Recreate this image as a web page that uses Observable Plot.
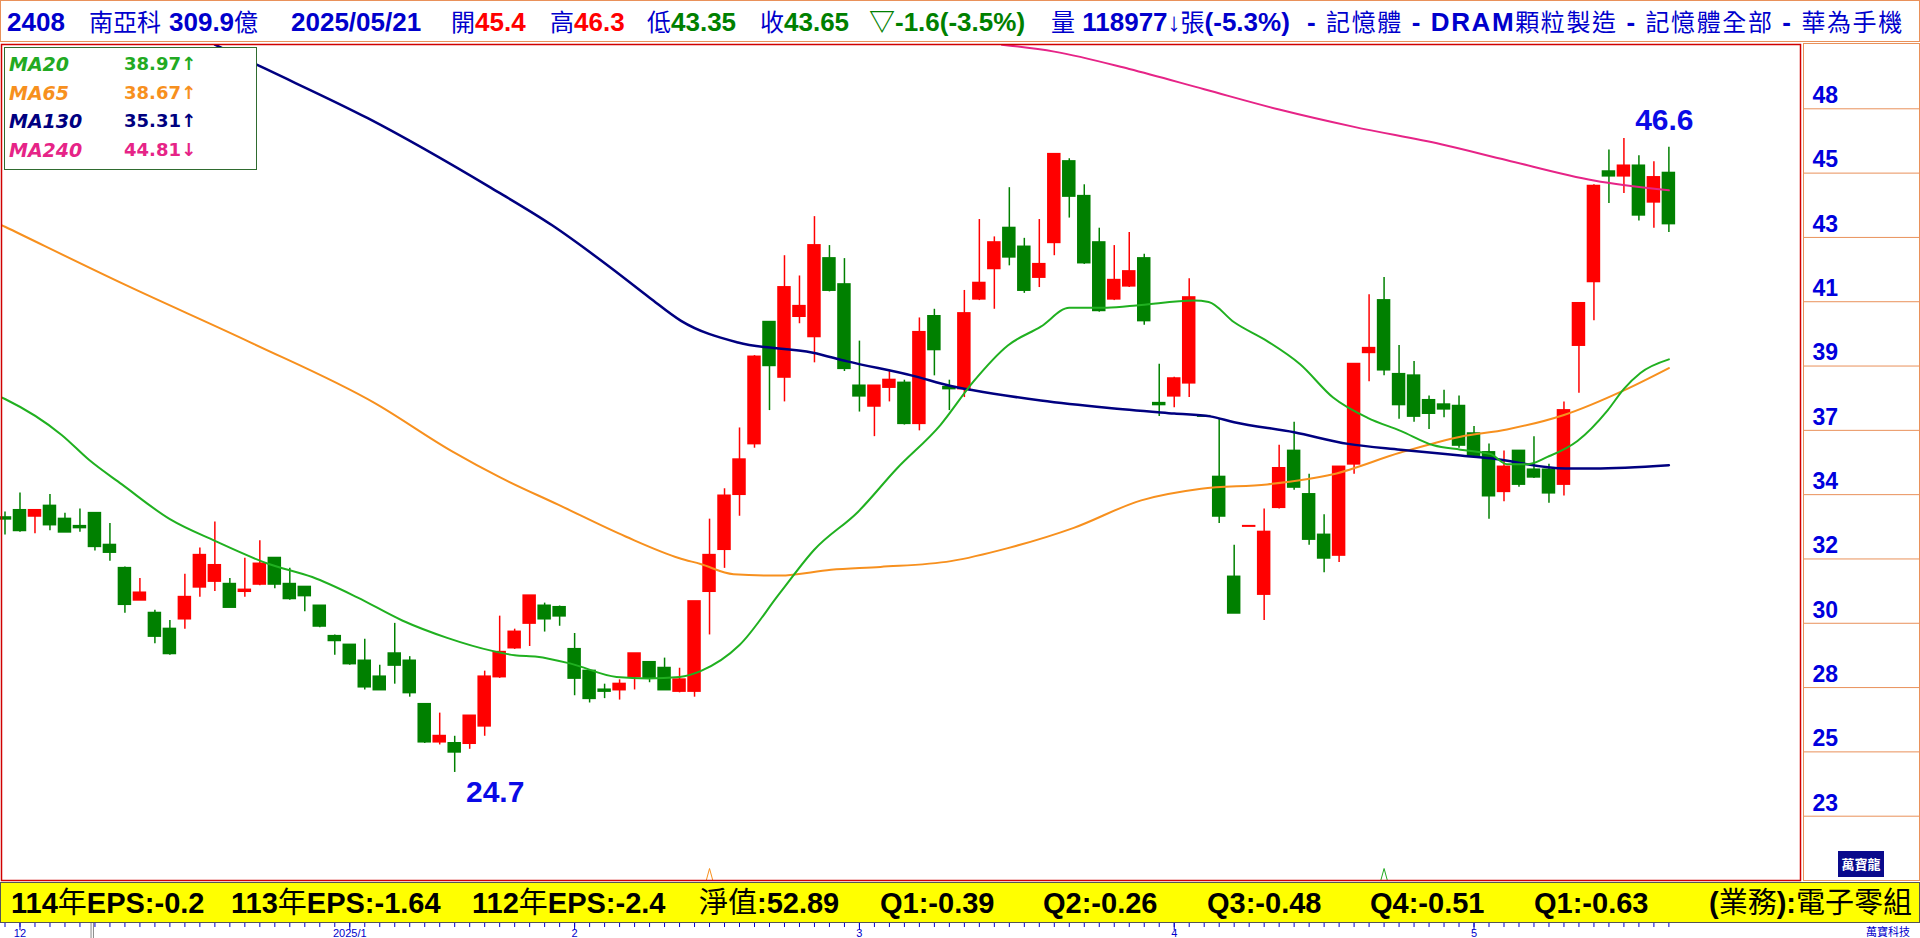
<!DOCTYPE html>
<html>
<head>
<meta charset="utf-8">
<script src="https://cdn.jsdelivr.net/npm/d3@7"></script>
<script src="https://cdn.jsdelivr.net/npm/@observablehq/plot@0.6"></script>
<style>
html,body{margin:0;padding:0;background:#fff;}
#wrap{position:relative;width:1920px;height:938px;overflow:hidden;background:#fff;font-family:"Liberation Sans","Noto Sans CJK TC",sans-serif;}
#chart{position:absolute;left:0;top:0;}
.cj{font-family:"Noto Sans CJK TC",sans-serif;font-weight:normal;line-height:1;}
.ht .cj{font-size:24px;}
#hdr{position:absolute;left:0;top:0;width:1918px;height:40px;border:1px solid #E9915A;background:#fff;overflow:hidden;}
.ht{position:absolute;top:0;line-height:42px;font-size:26px;font-weight:bold;color:#0000CC;white-space:pre;}
#legend{position:absolute;left:4px;top:47px;width:251px;height:121px;border:1.5px solid #2F6B2F;background:#fff;}
.lgL{position:absolute;left:4px;font-family:"DejaVu Sans",sans-serif;font-size:19px;font-weight:bold;font-style:italic;line-height:24px;white-space:pre;}
.lgV{position:absolute;left:119px;font-family:"DejaVu Sans",sans-serif;font-size:18px;font-weight:bold;line-height:24px;white-space:pre;}
#panel{position:absolute;left:1803px;top:43px;width:115px;height:836px;border:1px solid #E9915A;}
#logo{position:absolute;left:1838px;top:851px;width:46px;height:26px;background:#0A0A8C;color:#fff;font-family:"Noto Sans CJK TC",sans-serif;font-weight:bold;font-size:13px;line-height:26px;text-align:center;}
#ybar{position:absolute;left:0;top:882px;width:1918px;height:39px;background:#FFFF00;border:1px solid #555;}
.yt{position:absolute;top:2px;height:36px;line-height:36px;font-size:29px;font-weight:bold;color:#000;white-space:pre;}
#brand{position:absolute;left:1866px;top:925px;font-family:"Noto Sans CJK TC",sans-serif;font-size:11px;line-height:13px;color:#0000CC;}
</style>
</head>
<body>
<div id="wrap">
  <div id="chart"></div>
  <div id="hdr"></div>
  <div id="legend"></div>
  <div id="panel"></div>
  <div id="logo">萬寶龍</div>
  <div id="ybar"></div>
  <div id="brand">萬寶科技</div>
</div>
<script>
// ---------------- DATA ----------------
const open = [33.5,33.75,33.55,33.9,33.45,33.2,33.65,32.55,31.75,30.65,
 30.2,29.65,30.0,31.1,31.3,31.2,30.95,31.2,32.1,31.2,
 31.1,30.45,29.4,29.1,28.55,28.0,28.8,28.55,27.05,25.75,
 25.7,25.7,26.3,28.0,29.0,29.85,30.45,30.4,28.95,28.2,
 27.55,27.55,28.0,28.5,28.3,27.5,27.5,30.95,32.4,34.3,
 36.05,40.25,38.35,40.45,39.75,42.45,41.55,38.05,37.35,38.0,
 38.15,36.75,40.45,38.0,37.95,41.05,42.1,43.5,42.85,41.8,
 43.0,45.8,44.6,43.0,41.05,41.5,42.45,37.45,37.7,38.15,
 37.0,34.9,31.45,33.2,30.85,33.85,35.8,34.3,32.9,32.2,
 35.35,39.2,41.0,38.45,38.4,37.55,37.4,37.35,36.4,35.75,
 34.4,35.8,35.15,35.15,34.65,39.45,41.65,45.45,45.3,45.65,
 44.4,45.4];
const high = [33.7,34.35,33.75,34.3,33.65,33.8,33.65,33.3,31.8,31.4,
 30.3,29.95,31.55,32.45,33.35,31.4,32.1,32.7,32.1,31.75,
 31.1,30.45,29.45,29.1,29.3,28.4,29.85,28.7,27.05,26.75,
 25.95,26.65,28.2,30.1,29.65,30.8,30.55,30.45,29.5,28.2,
 27.75,27.9,28.8,28.5,28.65,28.3,30.6,33.45,34.5,36.6,
 39.1,40.25,42.55,41.85,43.9,42.9,42.45,39.6,38.05,38.55,
 38.25,40.4,40.7,38.25,41.35,43.8,43.2,44.9,43.15,43.8,
 46.05,45.9,45.0,43.5,42.9,43.35,42.6,38.8,38.35,41.75,
 37.0,36.9,32.55,33.2,33.8,36.0,36.8,35.0,33.6,35.25,
 38.8,41.2,41.8,39.45,38.9,37.7,37.9,37.7,36.65,36.05,
 35.8,35.8,36.3,35.35,37.5,40.9,45.0,46.2,46.6,46.0,
 45.8,46.3];
const low = [32.9,33.0,32.95,33.05,33.0,33.0,32.35,32.0,30.2,30.65,
 29.15,28.75,29.65,30.75,30.95,30.4,30.75,31.15,31.05,30.65,
 30.25,29.7,28.75,28.4,27.55,27.55,27.75,27.3,25.7,25.65,
 24.7,25.5,25.95,27.95,28.95,29.05,29.55,29.75,27.35,27.1,
 27.25,27.2,27.55,27.8,27.55,27.45,27.3,29.45,31.75,33.55,
 35.9,37.2,37.5,40.2,38.85,41.3,38.55,37.15,36.3,37.5,
 36.7,36.5,38.4,37.2,37.65,41.0,40.7,42.2,41.25,41.45,
 42.55,43.85,42.25,40.6,41.0,41.45,40.15,37.0,37.3,37.65,
 37.0,33.3,30.2,33.2,29.95,33.8,34.45,32.55,31.6,31.95,
 35.0,38.2,38.4,36.9,36.8,36.55,36.95,35.9,35.55,33.45,
 34.05,34.55,34.85,34.0,34.25,37.8,40.3,44.35,44.7,43.75,
 43.5,43.35];
const close = [33.45,33.05,33.75,33.25,33.0,33.15,32.5,32.3,30.5,30.9,
 29.4,28.8,30.75,32.2,31.85,30.4,31.0,31.9,31.2,30.7,
 30.8,29.75,29.25,28.45,27.65,27.55,28.4,27.45,25.75,25.95,
 25.4,26.65,28.0,28.85,29.55,30.8,30.0,30.1,27.95,27.25,
 27.5,27.75,28.8,27.95,27.55,27.9,30.6,32.2,34.25,35.5,
 39.05,38.75,41.45,40.8,42.9,41.35,38.65,37.7,38.05,38.25,
 36.75,39.9,39.3,37.95,40.55,41.6,43.0,42.5,41.35,42.25,
 46.05,44.6,42.3,40.65,41.7,42.0,40.3,37.4,38.3,41.1,
 37.0,33.55,30.2,33.2,33.0,35.2,34.55,32.75,32.1,35.25,
 38.8,39.35,38.6,37.4,37.0,37.1,37.25,36.0,35.65,34.25,
 35.25,34.65,34.9,34.35,37.2,40.9,44.95,45.3,45.65,43.95,
 45.25,43.65];

// moving averages: [candle index, value]
const ma20 = [[-0.2,37.65],[0,37.6],[3.8,36.35],[5.6,35.5],[7.8,34.65],[11,33.45],[14,32.7],[17.6,31.9],[20.5,31.45],[23.5,30.75],[26.5,29.95],[29.5,29.35],[32.5,28.9],[34,28.75],[35.5,28.7],[37.8,28.45],[40.8,28.0],[42.9,27.95],[45,28.0],[46.4,28.2],[49,29.1],[51.7,30.9],[54,32.4],[56.9,33.7],[59.5,35.2],[62.4,36.7],[64.6,38.2],[66.9,39.45],[69.1,40.1],[71,40.75],[73.5,40.75],[75.8,40.85],[79.3,41.0],[80.3,40.95],[82,40.25],[84.2,39.6],[86.4,38.8],[88.6,37.65],[90.9,36.95],[93.1,36.5],[95.3,36.0],[97.1,35.85],[99.1,35.7],[100.2,35.35],[101.6,35.35],[102.9,35.6],[104.9,36.15],[106.9,37.2],[108,37.95],[109.1,38.5],[111,38.97]];
const ma65 = [[-0.2,43.6],[0,43.55],[8,41.55],[16.4,39.55],[24.7,37.45],[29.8,35.8],[33,34.9],[36.9,33.95],[41.4,32.85],[45,32.1],[46.4,31.9],[48.6,31.55],[51.7,31.5],[55.1,31.7],[58.4,31.8],[63.1,32.0],[66.9,32.45],[71.3,33.15],[75.8,34.1],[79.8,34.5],[84.2,34.65],[88.6,35.0],[93.1,35.75],[97.1,36.3],[100.2,36.55],[104,37.05],[108,37.9],[111,38.67]];
const ma130 = [[14.0,49.84],[17.4,49.0],[24.2,47.3],[32.4,44.9],[36.5,43.6],[40.5,42.1],[43,41.1],[45.1,40.3],[48.9,39.55],[53.9,39.2],[56.2,38.9],[60.6,38.4],[63.1,38.05],[64.6,37.9],[69.1,37.55],[73.5,37.3],[78,37.1],[80.4,37.0],[82,36.8],[86,36.45],[89.6,36.05],[93.1,35.85],[97.1,35.65],[99.1,35.55],[104.1,35.2],[106,35.2],[111,35.31]];
const ma240 = [[66.5,49.84],[70,49.6],[75,49.0],[80,48.3],[85,47.6],[90,47.0],[95.8,46.4],[100.2,45.85],[106,45.15],[111,44.81]];

const maNames = ["MA20","MA65","MA130","MA240"];
const maLast = ["38.97↑","38.67↑","35.31↑","44.81↓"];
const maColors = ["#22AA22","#F7901E","#000080","#E62487"];

const yTickLabels = [23,25,28,30,32,34,37,39,41,43,45,48];
const monthK = [1,23,38,57,78,98];
const monthLabels = ["12","2025/1","2","3","4","5"];
const caretK = [47,92];
const caretColors = ["#F7901E","#22AA22"];
const splitK = [5.74,5.9];

const headerParts = [
  [["2408","#0000CC"]],
  [["南亞科","#0000CC"]],
  [["309.9億","#0000CC"]],
  [["2025/05/21","#0000CC"]],
  [["開","#0000CC"],["45.4","#FF0000"]],
  [["高","#0000CC"],["46.3","#FF0000"]],
  [["低","#0000CC"],["43.35","#008000"]],
  [["收","#0000CC"],["43.65","#008000"]],
  [["▽-1.6(-3.5%)","#008000"]],
  [["量 118977↓張(-5.3%)","#0000CC"]],
  [["- 記憶體 - DRAM顆粒製造 - 記憶體全部 - 華為手機","#0000CC"]]
];
const epsItems = ["114年EPS:-0.2","113年EPS:-1.64","112年EPS:-2.4","淨值:52.89","Q1:-0.39","Q2:-0.26","Q3:-0.48","Q4:-0.51","Q1:-0.63","(業務):電子零組"];

// ---------------- LAYOUT ----------------
const headerLeft = [6,88,168,290,450,549,646,759,868,1050,1306];
const headerSpacing = [0,0,0,0,0,0,0,0,0,0,1.6];
const epsLeft = [10,230,471,698,879,1042,1206,1369,1533,1708];

function richHTML(text){
  return text.split(/([\u3000-\u9fff\uff00-\uffef]+)/).map(s=>{
    if(!s) return "";
    const esc = s.replace(/&/g,"&amp;").replace(/</g,"&lt;");
    return /[\u3000-\u9fff\uff00-\uffef]/.test(s) ? `<span class="cj">${esc}</span>` : esc;
  }).join("");
}
const hdr = document.getElementById("hdr");
headerParts.forEach((parts,i)=>{
  const d = document.createElement("div");
  d.className="ht"; d.style.left=headerLeft[i]+"px"; d.style.letterSpacing=headerSpacing[i]+"px";
  d.innerHTML = parts.map(([t,c])=>`<span style="color:${c}">${richHTML(t)}</span>`).join("");
  hdr.appendChild(d);
});
const yb = document.getElementById("ybar");
epsItems.forEach((t,i)=>{
  const d=document.createElement("div");
  d.className="yt"; d.style.left=epsLeft[i]+"px";
  d.innerHTML=richHTML(t);
  yb.appendChild(d);
});
const lg = document.getElementById("legend");
maNames.forEach((n,i)=>{
  const top = 4 + i*28.7;
  const a=document.createElement("div"); a.className="lgL"; a.style.top=top+"px"; a.style.color=maColors[i]; a.textContent=n; lg.appendChild(a);
  const b=document.createElement("div"); b.className="lgV"; b.style.top=top+"px"; b.style.color=maColors[i]; b.textContent=maLast[i]; lg.appendChild(b);
});

// ---------------- PLOT ----------------
const red="#FF0000", green="#008000", axisBlue="#0000CC";
const N = open.length;
const candles = d3.range(N).map(i=>({k:i,o:open[i],h:high[i],l:low[i],c:close[i],
  up: close[i]>open[i] || (close[i]===open[i] && i>0 && close[i]>close[i-1])}));

const W=1920,H=938,mL=1,mR=120,mT=44,mB=58;
const x0=4.5, step=14.99;
const kAt = px => (px-x0)/step;
const yDom=[20.968,49.846];
const ppu=(H-mB-mT)/(yDom[1]-yDom[0]);
const vAt = py => yDom[0]+(H-mB-py)/ppu;
const yGrid = d3.range(1,13).map(j=>yDom[0]+j*(yDom[1]-yDom[0])/13);

const iMax = d3.maxIndex(high), iMin = d3.minIndex(low);
const hiLabel = [{k:iMax,v:high[iMax]}], loLabel = [{k:iMin,v:low[iMin]}];

const caretPts = caretK.flatMap((k,i)=>[{k:k-0.22,v:vAt(880),z:i},{k:k,v:vAt(868),z:i},{k:k+0.22,v:vAt(880),z:i}]);

const maLine = (data,color,w)=>Plot.line(data,{x:d=>d[0],y:d=>d[1],stroke:color,strokeWidth:w,curve:"monotone-x",clip:true});
const extremeText = (data,dy)=>Plot.text(data,{x:d=>d.k+0.75,y:"v",dy,text:d=>d3.format(".1f")(d.v),textAnchor:"start",fontSize:30,fontWeight:"bold",fill:"#0A0AE6"});

const chart = Plot.plot({
  width:W,height:H,marginLeft:mL,marginRight:mR,marginTop:mT,marginBottom:mB,
  x:{domain:[kAt(mL),kAt(W-mR)],axis:null},
  y:{domain:yDom,axis:null},
  color:{type:"identity"},
  style:{background:"transparent",fontFamily:"Liberation Sans, sans-serif",overflow:"visible"},
  marks:[
    Plot.ruleY(yGrid,{y:d=>d,x1:()=>kAt(1803),x2:()=>kAt(1919),stroke:"#E9915A",strokeWidth:1}),
    Plot.text(yGrid,{x:()=>kAt(1812),y:d=>d,text:(d,i)=>String(yTickLabels[i]),dy:-13,textAnchor:"start",fill:"#0000DD",fontSize:23,fontWeight:"bold"}),
    Plot.ruleX(candles,{x:"k",y1:"l",y2:"h",stroke:d=>d.up?red:green,strokeWidth:1.5}),
    Plot.rect(candles,{x1:d=>d.k-0.45,x2:d=>d.k+0.45,y1:d=>Math.min(d.o,d.c),y2:d=>Math.max(d.o,d.c),fill:d=>d.up?red:green,insetTop:-1,insetBottom:-1}),
    maLine(ma65,maColors[1],2),
    maLine(ma130,maColors[2],2.5),
    maLine(ma240,maColors[3],2),
    maLine(ma20,"#20B020",2),
    Plot.line(caretPts,{x:"k",y:"v",z:"z",stroke:d=>caretColors[d.z],strokeWidth:1}),
    Plot.frame({stroke:"#D00000",strokeWidth:1.5}),
    extremeText(hiLabel,-18),
    extremeText(loLabel,20),
    Plot.ruleX(d3.range(N),{x:d=>d,y1:()=>vAt(922),y2:()=>vAt(927),stroke:axisBlue,strokeWidth:1}),
    Plot.ruleX(monthK,{x:d=>d,y1:()=>vAt(922),y2:()=>vAt(930),stroke:axisBlue,strokeWidth:1}),
    Plot.ruleX(splitK,{x:d=>d,y1:()=>vAt(922),y2:()=>vAt(938),stroke:"#888",strokeWidth:1}),
    Plot.text(monthK,{x:d=>d,y:()=>vAt(933),text:(d,i)=>monthLabels[i],fontSize:11,fill:axisBlue})
  ]
});
document.getElementById("chart").appendChild(chart);
</script>
</body>
</html>
